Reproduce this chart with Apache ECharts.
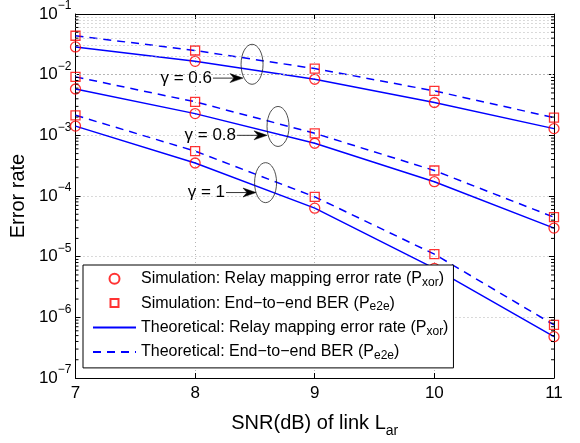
<!DOCTYPE html>
<html><head><meta charset="utf-8">
<script src="https://cdn.jsdelivr.net/npm/echarts@6/dist/echarts.min.js"></script>
<style>html,body{margin:0;padding:0;background:#fff}#c{width:580px;height:443px}</style>
</head><body><div id="c"></div>
<script>
// ---- data ----
const snr = [7, 8, 9, 10, 11];
const xTicks = [7, 8, 9, 10, 11];
const yTickExponents = [-7, -6, -5, -4, -3, -2, -1];

const simXor_g06 = [0.0287, 0.0166, 0.0084, 0.00348, 0.00129];
const simE2e_g06 = [0.0438, 0.0250, 0.0126, 0.0054, 0.00196];
const simXor_g08 = [0.0058, 0.00228, 0.00074, 0.000172, 2.96e-5];
const simE2e_g08 = [0.0092, 0.00357, 0.00108, 0.000263, 4.47e-5];
const simXor_g1  = [0.00142, 0.00035, 6.3e-5, 6.4e-6, 4.8e-7];
const simE2e_g1  = [0.00214, 0.00055, 9.7e-5, 1.1e-5, 7.5e-7];

const theoXor_g06 = [0.0287, 0.0166, 0.0084, 0.00348, 0.00129];
const theoE2e_g06 = [0.0438, 0.0250, 0.0126, 0.0054, 0.00196];
const theoXor_g08 = [0.0058, 0.00228, 0.00074, 0.000172, 2.96e-5];
const theoE2e_g08 = [0.0092, 0.00357, 0.00108, 0.000263, 4.47e-5];
const theoXor_g1  = [0.00142, 0.00035, 6.3e-5, 6.4e-6, 4.8e-7];
const theoE2e_g1  = [0.00214, 0.00055, 9.7e-5, 1.1e-5, 7.5e-7];

const legendNames = [
  'Simulation: Relay mapping error rate (Pxor)',
  'Simulation: End-to-end BER (Pe2e)',
  'Theoretical: Relay mapping error rate (Pxor)',
  'Theoretical: End-to-end BER (Pe2e)'
];
const legendRich = [
  '{t|Simulation: Relay mapping error rate (P}{sub|xor}{t|)}',
  '{t|Simulation: End\u2212to\u2212end BER (P}{sub|e2e}{t|)}',
  '{t|Theoretical: Relay mapping error rate (P}{sub|xor}{t|)}',
  '{t|Theoretical: End\u2212to\u2212end BER (P}{sub|e2e}{t|)}'
];
// annotations: label, ellipse centre (data), arrow tip (data)
const annLabels = ['\u03b3 = 0.6', '\u03b3 = 0.8', '\u03b3 = 1'];
const annEllipse = [[8.476, 0.01483], [8.693, 0.0014], [8.589, 1.66e-4]];
const annArrowTip = [[8.40, 0.00877], [8.601, 0.001], [8.509, 1.14e-4]];

const FONT = 'Liberation Sans, Arial, sans-serif';
const BLUE = '#0000ff', RED = '#ff0000';

const pair = arr => snr.map((x, i) => [x, arr[i]]);

// minor grid values 2..9 x 10^k
const minorVals = [];
for (let i = 0; i < yTickExponents.length - 1; i++) {
  for (let m = 2; m <= 9; m++) minorVals.push(m * Math.pow(10, yTickExponents[i]));
}

// legend square icon: 8x8 square centred in a 43x10 box (invisible corner points keep the box)
const squareIcon = 'path://M0,0L0,0M43,10L43,10M17.5,1L25.5,1L25.5,9L17.5,9Z';
const legendIcons = ['circle', squareIcon, null, null];

function lineSeries(name, arr, dashed) {
  return {
    name, type: 'line', data: pair(arr), symbol: 'none', showSymbol: false, z: 3,
    lineStyle: { color: BLUE, width: 1.5, type: dashed ? [8, 6] : 'solid' },
    itemStyle: { color: 'rgba(0,0,0,0)', borderWidth: 0 }, silent: true, animation: false
  };
}
function simSeries(name, arr, sym, size) {
  return {
    name, type: 'scatter', data: pair(arr), symbol: sym, symbolSize: size, z: 4,
    symbolKeepAspect: true,
    itemStyle: { color: 'rgba(0,0,0,0)', borderColor: RED, borderWidth: 1.3 },
    silent: true, animation: false
  };
}

const series = [
  lineSeries(legendNames[2], theoXor_g06, false),
  lineSeries(legendNames[3], theoE2e_g06, true),
  lineSeries(legendNames[2], theoXor_g08, false),
  lineSeries(legendNames[3], theoE2e_g08, true),
  lineSeries(legendNames[2], theoXor_g1, false),
  lineSeries(legendNames[3], theoE2e_g1, true),
  simSeries(legendNames[0], simXor_g06, 'circle', 10),
  simSeries(legendNames[1], simE2e_g06, 'rect', 9),
  simSeries(legendNames[0], simXor_g08, 'circle', 10),
  simSeries(legendNames[1], simE2e_g08, 'rect', 9),
  simSeries(legendNames[0], simXor_g1, 'circle', 10),
  simSeries(legendNames[1], simE2e_g1, 'rect', 9),
  {
    name: 'minorGrid', type: 'line', data: [], silent: true, z: 1,
    markLine: {
      silent: true, symbol: ['none', 'none'], animation: false,
      label: { show: false },
      lineStyle: { color: '#b4b4b4', width: 1, type: [1, 3] },
      emphasis: { disabled: true },
      data: minorVals.map(v => ({ yAxis: v }))
    }
  }
];

const yLabelFmt = v => {
  const e = Math.round(Math.log10(v));
  return '{b|10}{s|' + (e < 0 ? '\u2212' : '') + Math.abs(e) + '}';
};

const gridLine = { show: true, lineStyle: { color: '#b4b4b4', width: 1, type: [1, 3] } };
const axisLineBlack = { show: true, onZero: false, lineStyle: { color: '#000', width: 1 } };

const option = {
  backgroundColor: '#fff',
  animation: false,
  textStyle: { fontFamily: FONT },
  grid: { left: 75, right: 26, top: 14, bottom: 60, containLabel: false },
  xAxis: [{
    type: 'value', min: xTicks[0], max: xTicks[xTicks.length - 1], interval: 1,
    position: 'bottom',
    axisLine: axisLineBlack,
    axisTick: { show: true, inside: true, length: 5, lineStyle: { color: '#000' } },
    axisLabel: { fontSize: 17, color: '#000', margin: 7, fontFamily: FONT },
    splitLine: gridLine,
    name: '{n|SNR(dB) of link L}{sub|ar}', nameLocation: 'middle', nameGap: 30,
    nameTextStyle: {
      color: '#000', fontFamily: FONT,
      rich: {
        n: { fontSize: 20, lineHeight: 30, verticalAlign: 'middle', fontFamily: FONT, color: '#000' },
        sub: { fontSize: 14, lineHeight: 14, verticalAlign: 'bottom', fontFamily: FONT, color: '#000' }
      }
    }
  }, {
    type: 'value', min: xTicks[0], max: xTicks[xTicks.length - 1], interval: 1,
    position: 'top',
    axisLine: axisLineBlack,
    axisTick: { show: true, inside: true, length: 5, lineStyle: { color: '#000' } },
    axisLabel: { show: false }, splitLine: { show: false }
  }],
  yAxis: [{
    type: 'log', logBase: 10, min: Math.pow(10, yTickExponents[0]),
    max: Math.pow(10, yTickExponents[yTickExponents.length - 1]), interval: 1,
    position: 'left',
    axisLine: axisLineBlack,
    axisTick: { show: true, inside: true, length: 5, lineStyle: { color: '#000' } },
    axisLabel: {
      formatter: yLabelFmt, margin: 4, color: '#000',
      rich: {
        b: { fontSize: 17, lineHeight: 28, verticalAlign: 'middle', fontFamily: FONT, color: '#000' },
        s: { fontSize: 12, lineHeight: 12, verticalAlign: 'top', fontFamily: FONT, color: '#000' }
      }
    },
    splitLine: gridLine,
    name: 'Error rate', nameLocation: 'middle', nameGap: 40,
    nameTextStyle: { fontSize: 20, color: '#000', fontFamily: FONT }
  }, {
    type: 'log', logBase: 10, min: Math.pow(10, yTickExponents[0]),
    max: Math.pow(10, yTickExponents[yTickExponents.length - 1]), interval: 1,
    position: 'right',
    axisLine: axisLineBlack,
    axisTick: { show: true, inside: true, length: 5, lineStyle: { color: '#000' } },
    axisLabel: { show: false }, splitLine: { show: false }
  }],
  legend: {
    data: legendNames.map((n, i) => legendIcons[i] ? { name: n, icon: legendIcons[i] } : { name: n }),
    orient: 'vertical', left: 83, top: 265,
    backgroundColor: '#fff', borderColor: '#000', borderWidth: 1, borderRadius: 0,
    padding: [5.7, 5, 6, 9], itemGap: 6.4, itemWidth: 43, itemHeight: 10,
    symbolKeepAspect: true,
    selectedMode: false, z: 10,
    formatter: name => legendRich[legendNames.indexOf(name)],
    textStyle: {
      color: '#000', fontFamily: FONT,
      rich: {
        t: { fontSize: 16, lineHeight: 20, verticalAlign: 'middle', fontFamily: FONT, color: '#000' },
        sub: { fontSize: 12, lineHeight: 12, verticalAlign: 'bottom', fontFamily: FONT, color: '#000' }
      }
    }
  },
  series
};

const chart = echarts.init(document.getElementById('c'), null, { renderer: 'canvas' });
chart.setOption(option);

// extra graphics: minor ticks on left/right, annotations
const toPx = (x, y) => chart.convertToPixel({ xAxisIndex: 0, yAxisIndex: 0 }, [x, y]);
const xL = toPx(xTicks[0], 1e-3)[0];
const xR = toPx(xTicks[xTicks.length - 1], 1e-3)[0];
const g = [];
minorVals.forEach(v => {
  const y = toPx(xTicks[0], v)[1];
  g.push({ type: 'line', z: 5, silent: true, shape: { x1: xL, y1: y, x2: xL + 3, y2: y }, style: { stroke: '#000', lineWidth: 1 } });
  g.push({ type: 'line', z: 5, silent: true, shape: { x1: xR, y1: y, x2: xR - 3, y2: y }, style: { stroke: '#000', lineWidth: 1 } });
});
annLabels.forEach((lab, i) => {
  const c = toPx(annEllipse[i][0], annEllipse[i][1]);
  const t = toPx(annArrowTip[i][0], annArrowTip[i][1]);
  const tail = t[0] - 30;
  g.push({ type: 'ellipse', z: 6, silent: true, shape: { cx: c[0], cy: c[1], rx: 11, ry: 20 },
    style: { fill: null, stroke: '#222', lineWidth: 0.8 } });
  g.push({ type: 'line', z: 6, silent: true, shape: { x1: tail, y1: t[1], x2: t[0] - 8, y2: t[1] },
    style: { stroke: '#000', lineWidth: 0.8 } });
  g.push({ type: 'polygon', z: 6, silent: true,
    shape: { points: [[t[0], t[1]], [t[0] - 13, t[1] - 4.5], [t[0] - 9, t[1]], [t[0] - 13, t[1] + 4.5]] },
    style: { fill: '#000', stroke: '#000', lineWidth: 0.5 } });
  g.push({ type: 'text', z: 6, silent: true, x: tail - 1, y: t[1],
    style: { text: lab, font: '17px ' + FONT, fill: '#000', align: 'right', verticalAlign: 'middle' } });
});
chart.setOption({ graphic: g });
</script>
</body></html>
